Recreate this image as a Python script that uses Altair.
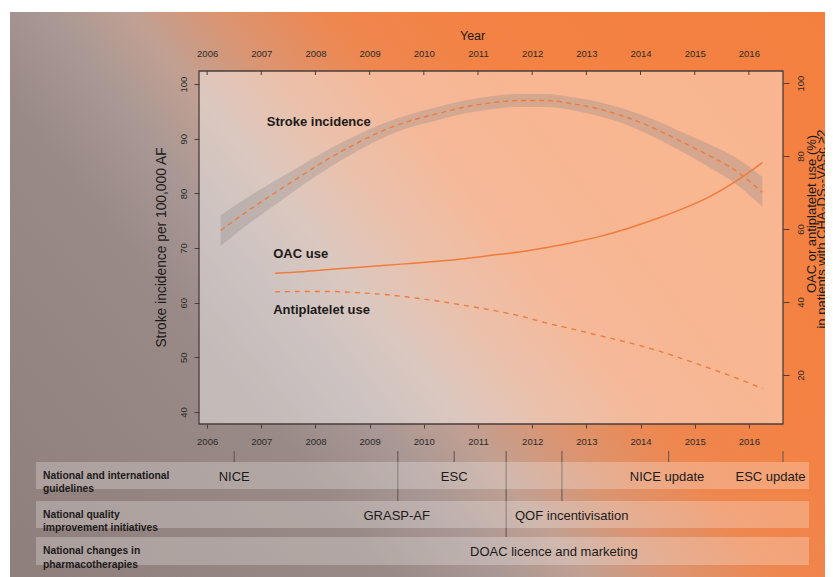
import altair as alt
import pandas as pd

# ---------------- data ----------------
stroke_year = [2006.25, 2006.75, 2007.25, 2007.75, 2008.25, 2008.75, 2009.25, 2009.75,
               2010.25, 2010.75, 2011.25, 2011.75, 2012.25, 2012.75, 2013.25, 2013.75,
               2014.25, 2014.75, 2015.25, 2015.75, 2016.25]
stroke_mid = [73.2, 76.8, 80.1, 83.3, 86.4, 89.1, 91.5, 93.3, 94.6, 95.8, 96.6, 97.0,
              97.0, 96.4, 95.4, 93.9, 91.9, 89.5, 87.0, 84.2, 80.2]
stroke_lo = [70.4, 74.3, 77.9, 81.4, 84.7, 87.6, 90.2, 92.1, 93.4, 94.6, 95.4, 95.8,
             95.8, 95.2, 94.1, 92.5, 90.3, 87.7, 84.9, 81.8, 77.5]
stroke_hi = [76.0, 79.3, 82.3, 85.2, 88.1, 90.6, 92.8, 94.5, 95.8, 97.0, 97.8, 98.2,
             98.2, 97.6, 96.7, 95.3, 93.5, 91.3, 89.1, 86.6, 83.0]

use_year = [2007.25, 2007.75, 2008.25, 2008.75, 2009.25, 2009.75, 2010.25, 2010.75,
            2011.25, 2011.75, 2012.25, 2012.75, 2013.25, 2013.75, 2014.25, 2014.75,
            2015.25, 2015.75, 2016.25]
oac_use = [47.9, 48.3, 48.9, 49.5, 50.0, 50.6, 51.2, 51.9, 52.8, 53.7, 54.9, 56.3,
           58.0, 60.1, 62.6, 65.4, 68.7, 73.0, 78.2]
antiplatelet_use = [42.8, 42.9, 42.9, 42.6, 42.1, 41.3, 40.3, 39.1, 37.8, 36.3, 34.3,
                    32.6, 30.8, 29.0, 27.0, 24.6, 22.0, 19.3, 16.3]

year_ticks = list(range(2006, 2017))
left_ticks = [40, 50, 60, 70, 80, 90, 100]
right_ticks = [20, 40, 60, 80, 100]

curve_labels = ["Stroke incidence", "OAC use", "Antiplatelet use"]
curve_label_year = [2007.1, 2007.22, 2007.22]
curve_label_value = [93.0, 68.9, 58.7]

row_titles = [["National and international", "guidelines"],
              ["National quality", "improvement initiatives"],
              ["National changes in", "pharmacotherapies"]]

event_year = [2006.5, 2009.52, 2010.56, 2011.52, 2012.55, 2014.52, 2016.63]
event_row = [1, 2, 1, 3, 2, 1, 1]

event_labels = ["NICE", "ESC", "NICE update", "ESC update", "GRASP-AF",
                "QOF incentivisation", "DOAC licence and marketing"]
event_label_year = [2006.5, 2010.56, 2014.49, 2016.40, 2009.5, 2012.73, 2012.40]
event_label_row = [1, 1, 1, 1, 2, 2, 3]

# ---------------- layout / style ----------------
W, H = 584, 353
FONT = "Liberation Sans"
ORANGE = "#f07c3c"
FRAME = "#4a3e3c"
TEXT = "#1c1a1a"

x_scale = alt.Scale(domain=[2005.85, 2016.63], nice=False, zero=False)
left_scale = alt.Scale(domain=[37.8, 102.4], nice=False, zero=False)
right_scale = alt.Scale(domain=[6.6, 103.3], nice=False, zero=False)

dummy = pd.DataFrame({"a": [0]})

bg_gradient = alt.LinearGradient(
    gradient="linear",
    x1=0, y1=1, x2=1.19, y2=0.3455,
    stops=[
        alt.GradientStop(color="#8e7e7c", offset=0),
        alt.GradientStop(color="#9a8a87", offset=0.3),
        alt.GradientStop(color="#a89794", offset=0.38),
        alt.GradientStop(color="#c1a092", offset=0.45),
        alt.GradientStop(color="#dc9470", offset=0.52),
        alt.GradientStop(color="#ee8750", offset=0.6),
        alt.GradientStop(color="#f38244", offset=0.7),
        alt.GradientStop(color="#f4803f", offset=1),
    ],
)

background = alt.Chart(dummy).mark_rect(fill=bg_gradient).encode(
    x=alt.value(-189), x2=alt.value(640), y=alt.value(-59), y2=alt.value(510)
)

plot_overlay = alt.Chart(dummy).mark_rect(fill="white", opacity=0.42).encode(
    x=alt.value(0), x2=alt.value(W), y=alt.value(0), y2=alt.value(H)
)

# timeline rows
row_top = [391, 430, 466]
row_bottom = [418, 457, 494]
row_layers = []
for r in range(3):
    row_layers.append(
        alt.Chart(dummy).mark_rect(fill="white", opacity=0.25).encode(
            x=alt.value(-163), x2=alt.value(610),
            y=alt.value(row_top[r]), y2=alt.value(row_bottom[r]))
    )

ev_df = pd.DataFrame({"year": event_year, "row": event_row})
rule_layers = []
for r in range(3):
    sub = ev_df[ev_df["row"] == r + 1]
    rule_layers.append(
        alt.Chart(sub).mark_rule(color="#5f5250", strokeWidth=1).encode(
            x=alt.X("year:Q", scale=x_scale, axis=None),
            y=alt.value(380), y2=alt.value(row_top[r]))
    )

row_title_layers = []
for r in range(3):
    row_title_layers.append(
        alt.Chart(pd.DataFrame({"t": [row_titles[r]]})).mark_text(
            font=FONT, fontSize=10.3, fontWeight="bold", color=TEXT,
            align="left", baseline="middle", lineHeight=13.5
        ).encode(x=alt.value(-156), y=alt.value((row_top[r] + row_bottom[r]) / 2),
                 text="t")
    )

lab_df = pd.DataFrame({"label": event_labels, "year": event_label_year,
                       "row": event_label_row})
event_text_layers = []
for r in range(3):
    sub = lab_df[lab_df["row"] == r + 1]
    event_text_layers.append(
        alt.Chart(sub).mark_text(font=FONT, fontSize=13, color=TEXT,
                                 align="center", baseline="middle").encode(
            x=alt.X("year:Q", scale=x_scale, axis=None),
            y=alt.value((row_top[r] + row_bottom[r]) / 2 + 1),
            text="label:N")
    )

# ---------------- main chart ----------------
stroke_df = pd.DataFrame({"year": stroke_year, "mid": stroke_mid,
                          "lo": stroke_lo, "hi": stroke_hi})
use_df = pd.DataFrame({"year": use_year, "oac": oac_use, "anti": antiplatelet_use})
tick_df = pd.DataFrame({"year": year_ticks})

bottom_axis = alt.Axis(orient="bottom", values=year_ticks, format="d", tickSize=4,
                       tickColor=FRAME, tickWidth=1, labelFontSize=9.5, labelFont=FONT,
                       labelColor="#2a2a2a", labelPadding=8, domain=False, grid=False,
                       title=None, zindex=1)
top_axis = alt.Axis(orient="top", values=year_ticks, format="d", ticks=False, tickSize=0,
                    labelFontSize=9.5, labelFont=FONT, labelColor="#2a2a2a",
                    labelPadding=13, domain=False, grid=False, title=None, zindex=1)
left_axis = alt.Axis(orient="left", values=left_ticks, tickSize=5, tickColor=FRAME,
                     labelAngle=270, labelAlign="center", labelBaseline="bottom",
                     labelPadding=6, labelFontSize=9.5, labelFont=FONT,
                     labelColor="#2a2a2a", domain=False, grid=False, title=None, zindex=1)
right_axis = alt.Axis(orient="right", values=right_ticks, tickSize=6, tickColor=FRAME,
                      labelAngle=270, labelAlign="center", labelBaseline="top",
                      labelPadding=6, labelFontSize=9.5, labelFont=FONT,
                      labelColor="#2a2a2a", domain=False, grid=False, title=None, zindex=1)

band = alt.Chart(stroke_df).mark_area(color="#8c8888", opacity=0.32,
                                      interpolate="monotone").encode(
    x=alt.X("year:Q", scale=x_scale, axis=bottom_axis),
    y=alt.Y("lo:Q", scale=left_scale, axis=left_axis),
    y2="hi:Q")

stroke_line = alt.Chart(stroke_df).mark_line(color=ORANGE, strokeWidth=1.4,
                                             strokeDash=[5, 4],
                                             interpolate="monotone").encode(
    x=alt.X("year:Q", scale=x_scale, axis=None),
    y=alt.Y("mid:Q", scale=left_scale, axis=None))

oac_line = alt.Chart(use_df).mark_line(color=ORANGE, strokeWidth=1.5,
                                       interpolate="monotone").encode(
    x=alt.X("year:Q", scale=x_scale, axis=None),
    y=alt.Y("oac:Q", scale=right_scale, axis=right_axis))

anti_line = alt.Chart(use_df).mark_line(color=ORANGE, strokeWidth=1.4,
                                        strokeDash=[5, 5],
                                        interpolate="monotone").encode(
    x=alt.X("year:Q", scale=x_scale, axis=None),
    y=alt.Y("anti:Q", scale=right_scale, axis=None))

top_ticks = alt.Chart(tick_df).mark_rule(color=FRAME, strokeWidth=1).encode(
    x=alt.X("year:Q", scale=x_scale, axis=top_axis),
    y=alt.value(0), y2=alt.value(4))

frame = alt.Chart(dummy).mark_rect(fill="white", fillOpacity=0, stroke=FRAME,
                                   strokeWidth=1.3).encode(
    x=alt.value(0), x2=alt.value(W), y=alt.value(0), y2=alt.value(H))

curve_df = pd.DataFrame({"label": curve_labels, "x": curve_label_year,
                         "y": curve_label_value})
curve_text = alt.Chart(curve_df).mark_text(font=FONT, fontSize=13, fontWeight="bold",
                                           color=TEXT, align="left",
                                           baseline="middle").encode(
    x=alt.X("x:Q", scale=x_scale, axis=None),
    y=alt.Y("y:Q", scale=left_scale, axis=None),
    text="label:N")

year_title = alt.Chart(pd.DataFrame({"t": ["Year"], "x": [2010.9]})).mark_text(
    font=FONT, fontSize=12.5, color=TEXT, baseline="middle").encode(
    x=alt.X("x:Q", scale=x_scale, axis=None), y=alt.value(-35), text="t")

left_title = alt.Chart(pd.DataFrame({"t": ["Stroke incidence per 100,000 AF"]})).mark_text(
    font=FONT, fontSize=13.8, color=TEXT, angle=270, align="center",
    baseline="middle").encode(x=alt.value(-37), y=alt.value(H / 2), text="t")

right_title1 = alt.Chart(pd.DataFrame({"t": ["OAC or antiplatelet use (%)"]})).mark_text(
    font=FONT, fontSize=13, color=TEXT, angle=270, align="center",
    baseline="middle").encode(x=alt.value(613), y=alt.value(143), text="t")

right_title2 = alt.Chart(pd.DataFrame({"t": ["in patients with CHA\u2082DS\u2082-VASc \u22652"]})).mark_text(
    font=FONT, fontSize=13, color=TEXT, angle=270, align="center",
    baseline="middle").encode(x=alt.value(623), y=alt.value(158), text="t")

chart = alt.layer(
    background, plot_overlay,
    *rule_layers, *row_layers, *row_title_layers, *event_text_layers,
    band, stroke_line, oac_line, anti_line, top_ticks, frame,
    curve_text, year_title, left_title, right_title1, right_title2,
).resolve_scale(y="independent").resolve_axis(x="independent", y="independent").properties(
    width=W, height=H,
    autosize=alt.AutoSizeParams(type="none"),
    padding={"left": 191, "top": 63, "right": 42, "bottom": 153},
    background="white",
).configure_view(stroke=None)

chart.save("out.html", embed_options={"renderer": "svg", "actions": False})
